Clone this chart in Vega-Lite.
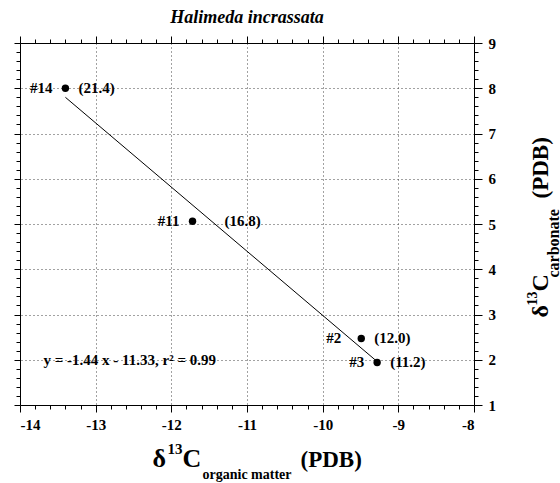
{
  "$schema": "https://vega.github.io/schema/vega-lite/v6.json",
  "width": 454,
  "height": 362,
  "autosize": {"type": "none"},
  "padding": {"left": 20, "top": 43, "right": 86, "bottom": 78},
  "background": "white",
  "title": {"text": "Halimeda incrassata", "font": "Liberation Serif, Times New Roman, DejaVu Serif, serif", "fontSize": 18, "fontStyle": "italic", "fontWeight": "bold", "color": "black", "anchor": "middle", "offset": 9},
  "config": {
    "view": {"stroke": null},
    "text": {"font": "Liberation Serif, Times New Roman, DejaVu Serif, serif"},
    "axis": {"labelFont": "Liberation Serif, Times New Roman, DejaVu Serif, serif", "labelFontWeight": "bold", "labelFontSize": 15, "labelColor": "black", "tickColor": "black", "domainColor": "black", "titleFont": "Liberation Serif, Times New Roman, DejaVu Serif, serif", "titleFontWeight": "bold", "titleColor": "black", "grid": false, "titleAlign": "left", "titleBaseline": "alphabetic"}
  },
  "datasets": {
    "points": [
      {"id": "#14", "val": "(21.4)", "x": -13.4, "y": 8.0},
      {"id": "#11", "val": "(16.8)", "x": -11.72, "y": 5.06},
      {"id": "#2", "val": "(12.0)", "x": -9.49, "y": 2.47},
      {"id": "#3", "val": "(11.2)", "x": -9.28, "y": 1.94}
    ],
    "fit": [
      {"x": -13.4, "y": 7.8},
      {"x": -9.28, "y": 1.96}
    ],
    "note": [
      {"text": "y = -1.44 x - 11.33, r² = 0.99", "x": -12.55, "y": 2.0}
    ]
  },
  "resolve": {"axis": {"x": "independent", "y": "independent"}},
  "layer": [
    {
      "data": {"name": "points"},
      "mark": {"type": "circle", "size": 55, "color": "black", "opacity": 1},
      "encoding": {
        "x": {"field": "x", "type": "quantitative", "scale": {"domain": [-14, -8], "nice": false, "zero": false},
              "axis": {"orient": "bottom", "values": [-14, -13, -12, -11, -10, -9, -8], "grid": true, "gridDash": [1, 3], "gridColor": "#444", "gridWidth": 1, "tickSize": 7, "labelPadding": 5, "title": null, "labelExpr": "datum.value < 0 ? '-' + abs(datum.value) : '' + datum.value"}},
        "y": {"field": "y", "type": "quantitative", "scale": {"domain": [1, 9], "nice": false, "zero": false},
              "axis": {"orient": "right", "values": [1, 2, 3, 4, 5, 6, 7, 8, 9], "grid": true, "gridDash": [1, 3], "gridColor": "#444", "gridWidth": 1, "tickSize": 8, "labelPadding": 6, "title": null}}
      }
    },
    {
      "data": {"name": "fit"},
      "mark": {"type": "line", "color": "black", "strokeWidth": 1},
      "encoding": {
        "x": {"field": "x", "type": "quantitative", "axis": {"orient": "top", "values": [-14, -13, -12, -11, -10, -9, -8], "labels": false, "tickSize": 7, "title": null}},
        "y": {"field": "y", "type": "quantitative", "axis": {"orient": "left", "values": [1, 2, 3, 4, 5, 6, 7, 8, 9], "labels": false, "tickSize": 6, "title": null}}
      }
    },
    {
      "data": {"name": "points"},
      "mark": {"type": "text", "align": "right", "baseline": "middle", "dx": {"expr": "datum.id == '#2' ? -20 : -13"}, "fontWeight": "bold", "fontSize": 15, "color": "black"},
      "encoding": {
        "text": {"field": "id"},
        "x": {"field": "x", "type": "quantitative", "axis": {"orient": "bottom", "values": [-13.8, -13.6, -13.4, -13.2, -12.8, -12.6, -12.4, -12.2, -11.8, -11.6, -11.4, -11.2, -10.8, -10.6, -10.4, -10.2, -9.8, -9.6, -9.4, -9.2, -8.8, -8.6, -8.4, -8.2], "labels": false, "domain": false, "tickSize": 4, "title": null}},
        "y": {"field": "y", "type": "quantitative", "axis": {"orient": "right", "values": [1.2, 1.4, 1.6, 1.8, 2.2, 2.4, 2.6, 2.8, 3.2, 3.4, 3.6, 3.8, 4.2, 4.4, 4.6, 4.8, 5.2, 5.4, 5.6, 5.8, 6.2, 6.4, 6.6, 6.8, 7.2, 7.4, 7.6, 7.8, 8.2, 8.4, 8.6, 8.8], "labels": false, "domain": false, "tickSize": 4, "title": null}}
      }
    },
    {
      "data": {"name": "points"},
      "mark": {"type": "text", "align": "left", "baseline": "middle", "dx": {"expr": "datum.id == '#11' ? 32 : 13"}, "fontWeight": "bold", "fontSize": 15, "color": "black"},
      "encoding": {
        "text": {"field": "val"},
        "x": {"field": "x", "type": "quantitative", "axis": {"orient": "top", "values": [-13.8, -13.6, -13.4, -13.2, -12.8, -12.6, -12.4, -12.2, -11.8, -11.6, -11.4, -11.2, -10.8, -10.6, -10.4, -10.2, -9.8, -9.6, -9.4, -9.2, -8.8, -8.6, -8.4, -8.2], "labels": false, "domain": false, "tickSize": 4, "title": null}},
        "y": {"field": "y", "type": "quantitative", "axis": {"orient": "left", "values": [1.2, 1.4, 1.6, 1.8, 2.2, 2.4, 2.6, 2.8, 3.2, 3.4, 3.6, 3.8, 4.2, 4.4, 4.6, 4.8, 5.2, 5.4, 5.6, 5.8, 6.2, 6.4, 6.6, 6.8, 7.2, 7.4, 7.6, 7.8, 8.2, 8.4, 8.6, 8.8], "labels": false, "domain": false, "tickSize": 4, "title": null}}
      }
    },
    {
      "data": {"name": "note"},
      "mark": {"type": "text", "align": "center", "baseline": "middle", "fontWeight": "bold", "fontSize": 15, "color": "black"},
      "encoding": {
        "text": {"field": "text"},
        "x": {"field": "x", "type": "quantitative", "axis": {"orient": "bottom", "labels": false, "ticks": false, "domain": false, "title": "δ", "titleFontSize": 26, "titleX": 132, "titleY": 61}},
        "y": {"field": "y", "type": "quantitative", "axis": {"orient": "right", "labels": false, "ticks": false, "domain": false, "title": "δ", "titleFontSize": 24, "titleAngle": -90, "titleX": 73, "titleY": 274}}
      }
    },
    {
      "data": {"name": "points"},
      "mark": {"type": "point", "opacity": 0},
      "encoding": {
        "x": {"field": "x", "type": "quantitative", "axis": {"orient": "bottom", "labels": false, "ticks": false, "domain": false, "title": "13", "titleFontSize": 15, "titleX": 147, "titleY": 48}},
        "y": {"field": "y", "type": "quantitative", "axis": {"orient": "right", "labels": false, "ticks": false, "domain": false, "title": "13", "titleFontSize": 14, "titleAngle": -90, "titleX": 62, "titleY": 262}}
      }
    },
    {
      "data": {"name": "points"},
      "mark": {"type": "point", "opacity": 0},
      "encoding": {
        "x": {"field": "x", "type": "quantitative", "axis": {"orient": "bottom", "labels": false, "ticks": false, "domain": false, "title": "C", "titleFontSize": 26, "titleX": 162, "titleY": 61}},
        "y": {"field": "y", "type": "quantitative", "axis": {"orient": "right", "labels": false, "ticks": false, "domain": false, "title": "C", "titleFontSize": 24, "titleAngle": -90, "titleX": 73, "titleY": 248}}
      }
    },
    {
      "data": {"name": "points"},
      "mark": {"type": "point", "opacity": 0},
      "encoding": {
        "x": {"field": "x", "type": "quantitative", "axis": {"orient": "bottom", "labels": false, "ticks": false, "domain": false, "title": "organic matter", "titleFontSize": 14, "titleX": 182, "titleY": 73}},
        "y": {"field": "y", "type": "quantitative", "axis": {"orient": "right", "labels": false, "ticks": false, "domain": false, "title": "carbonate", "titleFontSize": 16, "titleAngle": -90, "titleX": 84, "titleY": 234}}
      }
    },
    {
      "data": {"name": "points"},
      "mark": {"type": "point", "opacity": 0},
      "encoding": {
        "x": {"field": "x", "type": "quantitative", "axis": {"orient": "bottom", "labels": false, "ticks": false, "domain": false, "title": "(PDB)", "titleFontSize": 23, "titleX": 280, "titleY": 61}},
        "y": {"field": "y", "type": "quantitative", "axis": {"orient": "right", "labels": false, "ticks": false, "domain": false, "title": "(PDB)", "titleFontSize": 23, "titleAngle": -90, "titleX": 73, "titleY": 155}}
      }
    }
  ]
}
